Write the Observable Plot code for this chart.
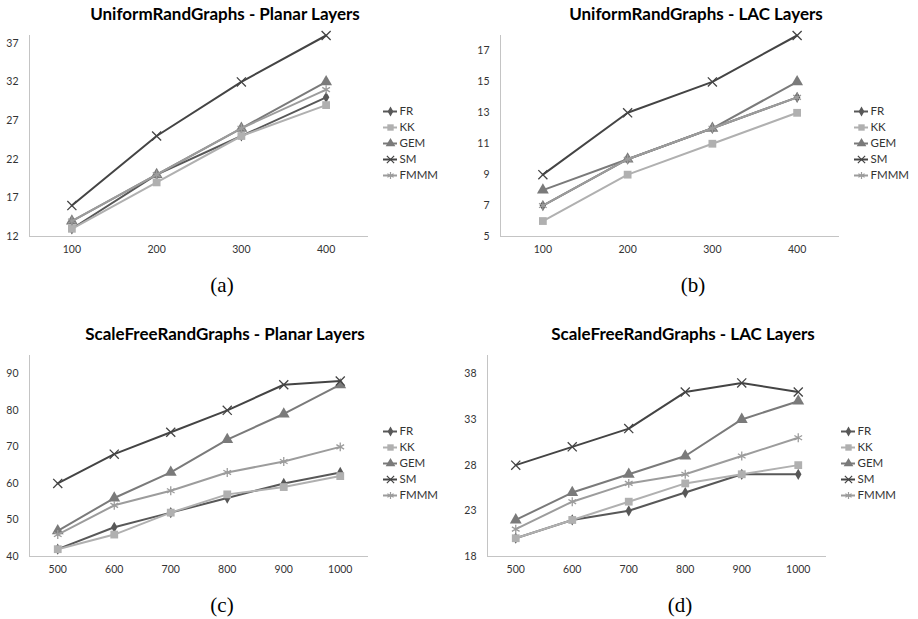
<!DOCTYPE html>
<html>
<head>
<meta charset="utf-8">
<script src="https://cdn.jsdelivr.net/npm/d3@7"></script>
<script src="https://cdn.jsdelivr.net/npm/@observablehq/plot@0.6"></script>
<style>
  html, body { margin: 0; padding: 0; background: #fff; }
  #root { position: relative; width: 918px; height: 619px; overflow: hidden; background: #fff; }
  .title { position: absolute; font-family: Lato, "Open Sans", sans-serif; font-weight: 700; font-size: 17px; color: #000; white-space: nowrap; transform: translate(-50%, -50%); }
  .caption { position: absolute; font-family: "Liberation Serif", "DejaVu Serif", serif; font-size: 21px; color: #000; white-space: nowrap; transform: translate(-50%, -50%); }
  .abs { position: absolute; }
</style>
</head>
<body>
<div id="root"></div>
<script>
// ---- data ----
const seriesNames = ["FR", "KK", "GEM", "SM", "FMMM"];
const seriesColors = ["#585858", "#b0b0b0", "#7a7a7a", "#444444", "#9c9c9c"];
const seriesSymbols = ["diamond", "square", "triangle", "times", "asterisk"];

const xUniform = [100, 200, 300, 400];
const xScaleFree = [500, 600, 700, 800, 900, 1000];

// (a) UniformRandGraphs - Planar Layers
const aFR = [13, 20, 25, 30];
const aKK = [13, 19, 25, 29];
const aGEM = [14, 20, 26, 32];
const aSM = [16, 25, 32, 38];
const aFMMM = [14, 20, 26, 31];
const aTicks = [12, 17, 22, 27, 32, 37];

// (b) UniformRandGraphs - LAC Layers
const bFR = [7, 10, 12, 14];
const bKK = [6, 9, 11, 13];
const bGEM = [8, 10, 12, 15];
const bSM = [9, 13, 15, 18];
const bFMMM = [7, 10, 12, 14];
const bTicks = [5, 7, 9, 11, 13, 15, 17];

// (c) ScaleFreeRandGraphs - Planar Layers
const cFR = [42, 48, 52, 56, 60, 63];
const cKK = [42, 46, 52, 57, 59, 62];
const cGEM = [47, 56, 63, 72, 79, 87];
const cSM = [60, 68, 74, 80, 87, 88];
const cFMMM = [46, 54, 58, 63, 66, 70];
const cTicks = [40, 50, 60, 70, 80, 90];

// (d) ScaleFreeRandGraphs - LAC Layers
const dFR = [20, 22, 23, 25, 27, 27];
const dKK = [20, 22, 24, 26, 27, 28];
const dGEM = [22, 25, 27, 29, 33, 35];
const dSM = [28, 30, 32, 36, 37, 36];
const dFMMM = [21, 24, 26, 27, 29, 31];
const dTicks = [18, 23, 28, 33, 38];

const titles = [
  "UniformRandGraphs - Planar Layers",
  "UniformRandGraphs - LAC Layers",
  "ScaleFreeRandGraphs - Planar Layers",
  "ScaleFreeRandGraphs - LAC Layers"
];
const captions = ["(a)", "(b)", "(c)", "(d)"];

// ---- build ----
function rowsFor(xs, arrays) {
  const rows = [];
  seriesNames.forEach((s, i) => {
    arrays[i].forEach((v, j) => rows.push({series: s, x: xs[j], y: v}));
  });
  return rows;
}

const panels = [
  {L: 0,   T: 0,   xs: xUniform,   xDomain: [50, 450],   yDomain: [12, 38], ticks: aTicks, rows: rowsFor(xUniform, [aFR, aKK, aGEM, aSM, aFMMM])},
  {L: 471, T: 0,   xs: xUniform,   xDomain: [50, 450],   yDomain: [5, 18],  ticks: bTicks, rows: rowsFor(xUniform, [bFR, bKK, bGEM, bSM, bFMMM])},
  {L: 0,   T: 320, xs: xScaleFree, xDomain: [450, 1050], yDomain: [40, 95], ticks: cTicks, rows: rowsFor(xScaleFree, [cFR, cKK, cGEM, cSM, cFMMM])},
  {L: 458, T: 320, xs: xScaleFree, xDomain: [450, 1050], yDomain: [18, 40], ticks: dTicks, rows: rowsFor(xScaleFree, [dFR, dKK, dGEM, dSM, dFMMM])}
];

const root = document.getElementById("root");
const colorScale = {type: "ordinal", domain: seriesNames, range: seriesColors};
const strokeSymbols = new Set(["times", "asterisk"]);
const symR = {diamond: 3.4, square: 4.4, triangle: 4.4, times: 4.2, asterisk: 4.2};

panels.forEach((p, k) => {
  const marks = [
    Plot.ruleY([p.yDomain[0]], {stroke: "#c4c4c4", strokeWidth: 1}),
    Plot.ruleX([p.xDomain[0]], {stroke: "#c4c4c4", strokeWidth: 1}),
    Plot.axisX(p.xs, {tickSize: 0, tickPadding: 9, fontSize: 10.5, fill: "#333", label: null, tickFormat: d => String(d)}),
    Plot.axisY(p.ticks, {tickSize: 0, tickPadding: 11, fontSize: 10.5, fill: "#333", label: null, tickFormat: d => String(d)})
  ];
  seriesNames.forEach((s, i) => {
    const data = p.rows.filter(r => r.series === s);
    const sym = seriesSymbols[i];
    marks.push(Plot.line(data, {x: "x", y: "y", stroke: "series", strokeWidth: 2}));
    if (strokeSymbols.has(sym)) {
      marks.push(Plot.dot(data, {x: "x", y: "y", stroke: "series", symbol: sym, r: symR[sym], strokeWidth: 1.3}));
    } else {
      marks.push(Plot.dot(data, {x: "x", y: "y", fill: "series", symbol: sym, r: symR[sym], stroke: "none"}));
    }
  });
  const chart = Plot.plot({
    width: 459, height: 241,
    marginLeft: 29, marginRight: 91, marginTop: 10, marginBottom: 30,
    style: {fontFamily: "Lato, 'Open Sans', sans-serif", background: "transparent"},
    x: {domain: p.xDomain, axis: null},
    y: {domain: p.yDomain, axis: null},
    color: colorScale,
    marks
  });
  chart.classList.add("abs");
  chart.style.left = p.L + "px";
  chart.style.top = (p.T + 25) + "px";
  root.appendChild(chart);

  // legend
  const legRows = seriesNames.map((s, i) => ({series: s, sym: seriesSymbols[i]}));
  const legMarks = [];
  legRows.forEach(r => {
    legMarks.push(Plot.ruleY([r], {y: "series", x1: 5, x2: 19, stroke: "series", strokeWidth: 2}));
    if (strokeSymbols.has(r.sym)) {
      legMarks.push(Plot.dot([r], {x: 12, y: "series", stroke: "series", symbol: r.sym, r: 3.4, strokeWidth: 1.2}));
    } else {
      legMarks.push(Plot.dot([r], {x: 12, y: "series", fill: "series", symbol: r.sym, r: r.sym === "diamond" ? 3 : 3.6}));
    }
  });
  legMarks.push(Plot.text(legRows, {x: 21, y: "series", text: "series", textAnchor: "start", fontSize: 11.5, fill: "#333"}));
  const legend = Plot.plot({
    width: 80, height: 110, margin: 0,
    style: {fontFamily: "Lato, 'Open Sans', sans-serif", background: "transparent"},
    x: {domain: [0, 80], range: [0, 80], axis: null},
    y: {type: "point", domain: seriesNames, range: [10, 92.8], axis: null},
    color: colorScale,
    marks: legMarks
  });
  legend.classList.add("abs");
  legend.style.left = (p.L + 378) + "px";
  legend.style.top = (p.T + 92) + "px";
  root.appendChild(legend);

  const t = document.createElement("div");
  t.className = "title";
  t.textContent = titles[k];
  t.style.left = (p.L + 225) + "px";
  t.style.top = (p.T + 13) + "px";
  root.appendChild(t);

  const c = document.createElement("div");
  c.className = "caption";
  c.textContent = captions[k];
  c.style.left = (p.L + 222) + "px";
  c.style.top = (p.T + 285) + "px";
  root.appendChild(c);
});
</script>
</body>
</html>
